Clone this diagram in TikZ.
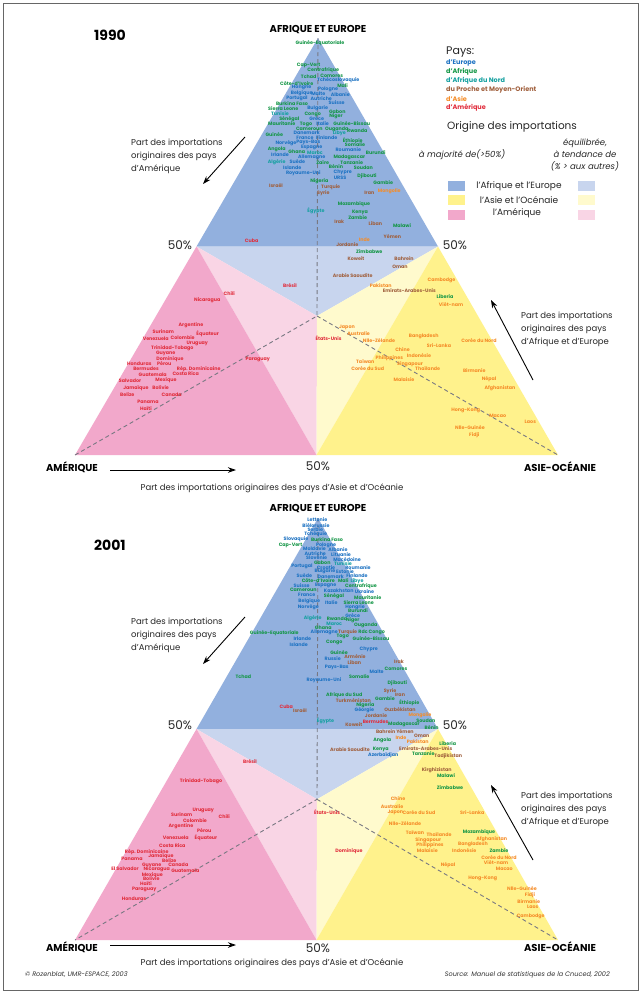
\documentclass[tikz,border=0pt]{standalone}
\usepackage{fontspec}
\setmainfont{Poppins}
\usetikzlibrary{arrows.meta}
\definecolor{dblue}{RGB}{146,176,222}
\definecolor{lblue}{RGB}{200,213,238}
\definecolor{dpink}{RGB}{242,168,203}
\definecolor{lpink}{RGB}{249,213,229}
\definecolor{dyel}{RGB}{255,242,140}
\definecolor{lyel}{RGB}{255,250,205}
\definecolor{eu}{RGB}{30,115,195}
\definecolor{af}{RGB}{20,150,70}
\definecolor{an}{RGB}{20,160,160}
\definecolor{pm}{RGB}{160,95,60}
\definecolor{as}{RGB}{245,140,40}
\definecolor{am}{RGB}{225,45,60}
\definecolor{dash}{RGB}{120,120,130}
\newcounter{lc}
\newcommand\cty[4]{\stepcounter{lc}\node[lab,text=#1] (c\arabic{lc}) at (#2,#3) {#4};}
\newcommand\labf{\fontsize{4.8}{5}\selectfont\bfseries}
\tikzset{
  lab/.style={font=\labf,inner sep=0pt},
  medline/.style={draw=dash,line width=0.9pt,dash pattern=on 4pt off 3pt},
  sidetext/.style={font=\fontsize{8.5}{13}\selectfont,align=left,inner sep=0pt,text=black!85},
  axtext/.style={font=\fontsize{8.5}{10}\selectfont,inner sep=0pt,text=black!85},
  corner/.style={font=\fontsize{10}{12}\selectfont\bfseries,inner sep=0pt},
  pct/.style={font=\fontsize{12}{14}\selectfont,inner sep=0pt,text=black!85},
  yr/.style={font=\fontsize{14}{16}\selectfont\bfseries,inner sep=0pt},
  parr/.style={-{Stealth[length=8pt,width=5.5pt]},line width=0.9pt},
  leg/.style={font=\fontsize{6.5}{7}\selectfont\bfseries,inner sep=0pt,anchor=west},
  sw/.style={minimum width=17.7pt,minimum height=10pt,inner sep=0pt,anchor=north west},
}
\begin{document}
\begin{tikzpicture}[x=1pt,y=-1pt]
\useasboundingbox (0,0) rectangle (643,994);
\fill[white] (0,0) rectangle (643,994);
\draw[black!60,line width=0.8pt] (3,3) rectangle (638,990);

% ===== triangle 1990 =====
\coordinate (A1) at (318,38); \coordinate (M1) at (75,455); \coordinate (S1) at (558,455);
\coordinate (am1) at (196.5,246.5); \coordinate (as1) at (438,246.5); \coordinate (ms1) at (316.5,455);
\coordinate (G1) at (317,316);
\fill[dblue] (A1) -- (am1) -- (as1) -- cycle;
\fill[lblue] (am1) -- (as1) -- (G1) -- cycle;
\fill[lpink] (am1) -- (G1) -- (ms1) -- cycle;
\fill[lyel] (as1) -- (G1) -- (ms1) -- cycle;
\fill[dpink] (M1) -- (am1) -- (ms1) -- cycle;
\fill[dyel] (S1) -- (as1) -- (ms1) -- cycle;
\draw[medline] (A1) -- (G1) -- (M1);
\draw[medline] (G1) -- (S1);

% ===== triangle 2001 =====
\coordinate (A2) at (318,518); \coordinate (M2) at (75,940); \coordinate (S2) at (558,940);
\coordinate (am2) at (196.5,729); \coordinate (as2) at (438,729); \coordinate (ms2) at (316.5,940);
\coordinate (G2) at (317,799.3);
\fill[dblue] (A2) -- (am2) -- (as2) -- cycle;
\fill[lblue] (am2) -- (as2) -- (G2) -- cycle;
\fill[lpink] (am2) -- (G2) -- (ms2) -- cycle;
\fill[lyel] (as2) -- (G2) -- (ms2) -- cycle;
\fill[dpink] (M2) -- (am2) -- (ms2) -- cycle;
\fill[dyel] (S2) -- (as2) -- (ms2) -- cycle;
\draw[medline] (A2) -- (G2) -- (M2);
\draw[medline] (G2) -- (S2);

% ===== titles, corners =====
\node[yr] (y1) at (110,35) {1990};
\node[yr] (y2) at (110,545) {2001};
\node[corner] (t1) at (318,30) {AFRIQUE ET EUROPE};
\node[corner] (t2) at (318,509) {AFRIQUE ET EUROPE};
\node[corner] (ml1) at (72,467) {AMÉRIQUE};
\node[corner] (ml2) at (72,947) {AMÉRIQUE};
\node[corner] (sl1) at (560,467) {ASIE-OCÉANIE};
\node[corner] (sl2) at (560,947) {ASIE-OCÉANIE};
\node[pct] (p1a) at (180,245) {50\%};
\node[pct] (p1b) at (455,245) {50\%};
\node[pct] (p1c) at (318,466) {50\%};
\node[pct] (p2a) at (180,725) {50\%};
\node[pct] (p2b) at (455,725) {50\%};
\node[pct] (p2c) at (318,948) {50\%};

% ===== side texts & arrows =====
\node[sidetext,anchor=north west] (st1) at (131,139) {Part des importations\\originaires des pays\\d'Amérique};
\node[sidetext,anchor=north west] (st2) at (131,618) {Part des importations\\originaires des pays\\d'Amérique};
\coordinate (a1s) at (245,137); \coordinate (a1e) at (203,184);
\coordinate (a2s) at (245,617); \coordinate (a2e) at (203,664);
\draw[parr] (a1s) -- (a1e);
\draw[parr] (a2s) -- (a2e);
\node[sidetext,anchor=north west] (rt1) at (521,312) {Part des importations\\originaires des pays\\d'Afrique et d'Europe};
\node[sidetext,anchor=north west] (rt2) at (521,792) {Part des importations\\originaires des pays\\d'Afrique et d'Europe};
\coordinate (b1s) at (533,380); \coordinate (b1e) at (491,300);
\coordinate (b2s) at (533,860); \coordinate (b2e) at (491,785);
\draw[parr] (b1s) -- (b1e);
\draw[parr] (b2s) -- (b2e);
\node[axtext] (bt1) at (272,488) {Part des importations originaires des pays d'Asie et d'Océanie};
\node[axtext] (bt2) at (272,963) {Part des importations originaires des pays d'Asie et d'Océanie};
\coordinate (c1s) at (110,470); \coordinate (c1e) at (236,470);
\coordinate (c2s) at (110,945); \coordinate (c2e) at (236,945);
\draw[parr] (c1s) -- (c1e);
\draw[parr] (c2s) -- (c2e);

% ===== legend =====
\node[font=\fontsize{11}{12}\selectfont,inner sep=0pt,anchor=west,text=black!85] (pays) at (446,52) {Pays:};
\node[leg,text=eu] (le1) at (446,63) {d'Europe};
\node[leg,text=af] (le2) at (446,72) {d'Afrique};
\node[leg,text=an] (le3) at (446,81) {d'Afrique du Nord};
\node[leg,text=pm] (le4) at (446,90) {du Proche et Moyen-Orient};
\node[leg,text=as] (le5) at (446,99) {d'Asie};
\node[leg,text=am] (le6) at (446,108) {d'Amérique};
\node[font=\fontsize{10.5}{12}\selectfont,inner sep=0pt,anchor=west,text=black!85] (orig) at (447,127) {Origine des importations};
\node[font=\fontsize{8.5}{10}\selectfont\itshape,inner sep=0pt,text=black!85] (maj) at (462,155) {à majorité de(>50\%)};
\node[font=\fontsize{8.5}{12}\selectfont\itshape,inner sep=0pt,align=center,text=black!85] (equ) at (585,155) {équilibrée,\\à tendance de\\(\% > aux autres)};
\node[sw,fill=dblue] (s1) at (447.3,180.7) {};
\node[sw,fill=lblue] (s2) at (577.3,180.7) {};
\node[sw,fill=dyel] (s3) at (447.3,194.3) {};
\node[sw,fill=lyel] (s4) at (577.3,194.3) {};
\node[sw,fill=dpink] (s5) at (447.3,209.3) {};
\node[sw,fill=lpink] (s6) at (577.3,209.3) {};
\node[font=\fontsize{9}{10}\selectfont,inner sep=0pt,text=black!85] (lg1) at (519,186) {l'Afrique et l'Europe};
\node[font=\fontsize{9}{10}\selectfont,inner sep=0pt,text=black!85] (lg2) at (519,200.3) {l'Asie et l'Océnaie};
\node[font=\fontsize{9}{10}\selectfont,inner sep=0pt,text=black!85] (lg3) at (517,213.3) {l'Amérique};

% ===== footer =====
\node[font=\fontsize{6.5}{8}\selectfont\itshape,inner sep=0pt,anchor=west,text=black!80] (f1) at (25,975) {© Rozenblat, UMR-ESPACE, 2003};
\node[font=\fontsize{6.5}{8}\selectfont\itshape,inner sep=0pt,anchor=east,text=black!80] (f2) at (610,975) {Source: Manuel de statistiques de la Cnuced, 2002};

% ===== 1990 labels =====
\cty{af}{320}{43.3}{Guinée-Equatoriale}
\cty{af}{308.7}{65}{Cap-Vert}
\cty{af}{323.3}{70.7}{Centrafrique}
\cty{af}{331.7}{75.7}{Comores}
\cty{af}{308.7}{77}{Tchad}
\cty{eu}{338.3}{80.5}{Tchécoslovaquie}
\cty{af}{296.7}{83.7}{Côte-d'Ivoire}
\cty{af}{342.5}{86}{Mali}
\cty{eu}{301.7}{87.7}{Hongrie}
\cty{eu}{328}{89}{Pologne}
\cty{eu}{301.7}{93.7}{Belgique}
\cty{eu}{318.3}{93.7}{Malte}
\cty{eu}{340.3}{94.7}{Albanie}
\cty{eu}{297}{98.3}{Portugal}
\cty{eu}{321.3}{98.3}{Autriche}
\cty{eu}{336.7}{103}{Suisse}
\cty{af}{292}{104}{Burkina Faso}
\cty{af}{283.3}{108.7}{Sierra Leone}
\cty{eu}{317.7}{108.7}{Bulgarie}
\cty{af}{337.3}{111.7}{Gabon}
\cty{an}{280}{114}{Tunisie}
\cty{af}{312.7}{114}{Congo}
\cty{af}{336}{116.3}{Niger}
\cty{af}{289.3}{119}{Sénégal}
\cty{eu}{316.7}{119}{Grèce}
\cty{af}{281.7}{124}{Mauritanie}
\cty{af}{306}{124}{Togo}
\cty{eu}{322.7}{124}{Italie}
\cty{af}{351.7}{124}{Guinée-Bissau}
\cty{af}{309.3}{129}{Cameroun}
\cty{af}{336.7}{129}{Ouganda}
\cty{af}{357.3}{131}{Rwanda}
\cty{eu}{306.7}{133}{Danemark}
\cty{an}{339.3}{133.7}{Libye}
\cty{af}{274.3}{135}{Guinée}
\cty{eu}{305}{137.7}{France}
\cty{eu}{326.7}{137.3}{Finlande}
\cty{af}{352.7}{140.7}{Éthiopie}
\cty{eu}{286}{142.7}{Norvège}
\cty{eu}{308.3}{142.7}{Pays-Bas}
\cty{af}{355}{145}{Somalie}
\cty{eu}{311.7}{147}{Espagne}
\cty{af}{276.7}{149}{Angola}
\cty{eu}{348.3}{150}{Roumanie}
\cty{af}{296.7}{151.7}{Ghana}
\cty{an}{315}{153}{Maroc}
\cty{af}{375.7}{152.7}{Burundi}
\cty{eu}{280}{154.3}{Irlande}
\cty{eu}{311.7}{157}{Allemagne}
\cty{af}{349.3}{157}{Madagascar}
\cty{an}{276.7}{161.7}{Algérie}
\cty{eu}{297.3}{161.7}{Suède}
\cty{af}{322.7}{162.7}{Zaïre}
\cty{af}{351.7}{163}{Tanzanie}
\cty{eu}{292.3}{167.7}{Islande}
\cty{af}{336}{167}{Bénin}
\cty{af}{363.3}{167.7}{Soudan}
\cty{eu}{342.7}{172}{Chypre}
\cty{eu}{303.3}{173.7}{Royaume-Uni}
\cty{af}{367}{176.7}{Djibouti}
\cty{eu}{340}{178.3}{URSS}
\cty{af}{319.3}{181}{Nigeria}
\cty{af}{383.3}{182.7}{Gambie}
\cty{pm}{276}{185.7}{Israël}
\cty{pm}{330.7}{187.7}{Turquie}
\cty{as}{389.3}{191}{Mongolie}
\cty{pm}{369.3}{193}{Iran}
\cty{pm}{323.3}{193.3}{Syrie}
\cty{af}{354}{204.3}{Mozambique}
\cty{an}{316}{211}{Égypte}
\cty{af}{360}{212.7}{Kenya}
\cty{af}{357.7}{217.7}{Zambie}
\cty{pm}{339.3}{222}{Irak}
\cty{pm}{375.3}{224}{Liban}
\cty{af}{402}{225.7}{Malawi}
\cty{pm}{392.3}{237}{Yémen}
\cty{as}{364.3}{239.7}{Inde}
\cty{am}{251.7}{241}{Cuba}
\cty{pm}{347.3}{244.7}{Jordanie}
\cty{af}{369.3}{251.7}{Zimbabwe}
\cty{pm}{356}{259}{Koweit}
\cty{pm}{404}{259}{Bahrein}
\cty{pm}{400}{267}{Oman}
\cty{pm}{352.7}{276}{Arabie Saoudite}
\cty{am}{290}{285.7}{Brésil}
\cty{as}{441.5}{280}{Cambodge}
\cty{as}{380.7}{286}{Pakistan}
\cty{pm}{409.3}{291}{Emirats-Arabes-Unis}
\cty{af}{445}{297}{Liberia}
\cty{as}{451}{305}{Viêt-nam}
\cty{am}{229.3}{294}{Chili}
\cty{am}{207.3}{300}{Nicaragua}
\cty{as}{347}{327}{Japon}
\cty{as}{358.7}{334}{Australie}
\cty{am}{328.5}{338}{États-Unis}
\cty{as}{379}{341}{Nlle-Zélande}
\cty{as}{423.7}{336.5}{Bangladesh}
\cty{as}{439}{345.7}{Sri-Lanka}
\cty{as}{479}{341}{Corée du Nord}
\cty{as}{402.5}{349.8}{Chine}
\cty{as}{419}{356}{Indonésie}
\cty{as}{365.3}{361.7}{Taïwan}
\cty{as}{389.3}{358.3}{Philippines}
\cty{as}{410}{364}{Singapour}
\cty{as}{427.7}{369}{Thaïlande}
\cty{as}{367.7}{369}{Corée du Sud}
\cty{as}{474.3}{371}{Birmanie}
\cty{as}{489}{379}{Népal}
\cty{as}{404}{380}{Malaisie}
\cty{as}{500}{388}{Afghanistan}
\cty{as}{465.7}{410.7}{Hong-Kong}
\cty{as}{497.7}{416}{Macao}
\cty{as}{530.3}{422}{Laos}
\cty{as}{470}{427.7}{Nlle-Guinée}
\cty{as}{474.3}{435.7}{Fidji}
\cty{am}{191}{325}{Argentine}
\cty{am}{163.3}{332}{Surinam}
\cty{am}{207.7}{333.7}{Équateur}
\cty{am}{155.7}{339}{Venezuela}
\cty{am}{182.7}{337.7}{Colombie}
\cty{am}{197.3}{343}{Uruguay}
\cty{am}{172.3}{348}{Trinidad-Tobago}
\cty{am}{165.7}{353}{Guyane}
\cty{am}{170}{359}{Dominique}
\cty{am}{139.3}{364}{Honduras}
\cty{am}{164.3}{364}{Pérou}
\cty{am}{257.7}{359.3}{Paraguay}
\cty{am}{146}{369}{Bermudes}
\cty{am}{198.7}{369}{Rép. Dominicaine}
\cty{am}{152.7}{375}{Guatemala}
\cty{am}{185.7}{373.7}{Costa Rica}
\cty{am}{130}{380.7}{Salvador}
\cty{am}{166}{380.7}{Mexique}
\cty{am}{136}{388}{Jamaïque}
\cty{am}{160.7}{388}{Bolivie}
\cty{am}{127.3}{394.7}{Belize}
\cty{am}{171.7}{394.7}{Canada}
\cty{am}{148}{402}{Panama}
\cty{am}{146}{408.3}{Haïti}

% ===== 2001 labels =====
\cty{eu}{317.3}{520}{Lettonie}
\cty{eu}{316}{525.3}{Biélorussie}
\cty{eu}{315.3}{529.7}{Serbie}
\cty{eu}{315.7}{534.5}{Tchéquie}
\cty{eu}{296}{539.3}{Slovaquie}
\cty{af}{327}{539.7}{Burkina Faso}
\cty{af}{290.5}{545}{Cap-Vert}
\cty{eu}{326}{545}{Pologne}
\cty{eu}{314.5}{549}{Moldavie}
\cty{eu}{338}{549.7}{Albanie}
\cty{eu}{315.3}{553.5}{Autriche}
\cty{eu}{341}{554.7}{Lituanie}
\cty{eu}{316.7}{558}{Slovénie}
\cty{eu}{347}{559.5}{Macédoine}
\cty{af}{322.3}{562.5}{Gabon}
\cty{an}{343}{564}{Tunisie}
\cty{eu}{302}{566.5}{Portugal}
\cty{eu}{326}{567.3}{Croatie}
\cty{eu}{358}{567.3}{Roumanie}
\cty{eu}{325}{571.7}{Bulgarie}
\cty{eu}{345}{572}{Estonie}
\cty{eu}{304.3}{575.5}{Suède}
\cty{eu}{330.7}{576.3}{Danemark}
\cty{eu}{357}{576}{Finlande}
\cty{af}{318.3}{581}{Côte-d'Ivoire}
\cty{af}{343.3}{581}{Mali}
\cty{an}{357}{581}{Libye}
\cty{eu}{301.7}{585.3}{Suisse}
\cty{eu}{325.7}{585.5}{Espagne}
\cty{af}{361}{586}{Centrafrique}
\cty{af}{303.3}{590}{Cameroun}
\cty{eu}{338.7}{590.7}{Kazakhstan}
\cty{eu}{364.5}{591.7}{Ukraine}
\cty{eu}{306.7}{595.3}{France}
\cty{af}{334}{596}{Sénégal}
\cty{af}{367.7}{597.7}{Mauritanie}
\cty{eu}{309.3}{601.7}{Belgique}
\cty{eu}{331.3}{603}{Italie}
\cty{af}{358.7}{602.7}{Sierra Leone}
\cty{eu}{308.3}{607}{Norvège}
\cty{eu}{355}{607.3}{Hongrie}
\cty{af}{358}{610.7}{Burundi}
\cty{eu}{352.7}{615.8}{Grèce}
\cty{an}{312.7}{617.7}{Algérie}
\cty{af}{337}{619}{Rwanda}
\cty{af}{352.7}{620.7}{Niger}
\cty{an}{334.3}{624.3}{Maroc}
\cty{af}{365.7}{625.7}{Ouganda}
\cty{af}{323.3}{627.3}{Ghana}
\cty{af}{274.3}{633.3}{Guinée-Equatoriale}
\cty{eu}{324.3}{632}{Allemagne}
\cty{pm}{347.7}{632}{Turquie}
\cty{af}{371.7}{632}{Rdc Congo}
\cty{af}{342.7}{636.3}{Togo}
\cty{eu}{302.3}{639}{Irlande}
\cty{af}{371}{639}{Guinée-Bissau}
\cty{af}{334.3}{642}{Congo}
\cty{eu}{298.7}{644.3}{Islande}
\cty{eu}{368.7}{649}{Chypre}
\cty{af}{339}{653}{Guinée}
\cty{pm}{355}{657}{Arménie}
\cty{eu}{332.7}{659}{Russie}
\cty{pm}{399}{662}{Irak}
\cty{pm}{354.3}{663}{Liban}
\cty{eu}{336.7}{667.7}{Pays-Bas}
\cty{af}{396}{669}{Comores}
\cty{eu}{376.7}{671.7}{Malte}
\cty{af}{243.3}{676.7}{Tchad}
\cty{af}{359.3}{676.7}{Somalie}
\cty{eu}{324}{680}{Royaume-Uni}
\cty{af}{397.3}{683.3}{Djibouti}
\cty{pm}{390}{691}{Syrie}
\cty{af}{344.3}{695}{Afrique du Sud}
\cty{pm}{400}{695}{Iran}
\cty{af}{385}{698.3}{Gambie}
\cty{pm}{353.3}{700.7}{Turkménistan}
\cty{af}{409.3}{702.7}{Éthiopie}
\cty{am}{286.3}{707}{Cuba}
\cty{af}{365.3}{705}{Nigeria}
\cty{pm}{300}{711}{Israël}
\cty{eu}{364.3}{710}{Géorgie}
\cty{pm}{400}{709.3}{Ouzbékistan}
\cty{as}{420}{715}{Mongolie}
\cty{pm}{376}{716}{Jordanie}
\cty{an}{325.5}{721}{Égypte}
\cty{am}{375.5}{721.3}{Bermudes}
\cty{af}{425.8}{720.7}{Soudan}
\cty{pm}{353.8}{725}{Koweit}
\cty{af}{404}{724.7}{Madagascar}
\cty{af}{431.7}{727.3}{Bénin}
\cty{pm}{385.7}{731.7}{Bahrein}
\cty{pm}{405}{731.7}{Yémen}
\cty{pm}{421.7}{735.7}{Oman}
\cty{as}{401}{737.7}{Inde}
\cty{af}{382.3}{740.7}{Angola}
\cty{as}{417.7}{741.7}{Pakistan}
\cty{af}{447.7}{744}{Liberia}
\cty{pm}{350}{749.3}{Arabie Saoudite}
\cty{af}{380.7}{749.3}{Kenya}
\cty{pm}{425.7}{748.7}{Emirats-Arabes-Unis}
\cty{eu}{383.3}{755.7}{Azerbaïdjan}
\cty{af}{423.3}{754}{Tanzanie}
\cty{pm}{448.3}{756}{Tadjikistan}
\cty{pm}{436.7}{770.7}{Kirghizistan}
\cty{af}{446}{775.7}{Malawi}
\cty{af}{450}{787.5}{Zimbabwe}
\cty{am}{250}{762}{Brésil}
\cty{as}{398}{799}{Chine}
\cty{as}{392}{806.7}{Australie}
\cty{as}{395.3}{812.3}{Japon}
\cty{as}{419}{812.7}{Corée du Sud}
\cty{as}{472.3}{812.7}{Sri-Lanka}
\cty{am}{327}{812}{États-Unis}
\cty{as}{405}{823.7}{Nlle-Zélande}
\cty{as}{415}{832.7}{Taïwan}
\cty{as}{439}{834.3}{Thaïlande}
\cty{af}{479}{832.7}{Mozambique}
\cty{as}{428.3}{840}{Singapour}
\cty{as}{491.7}{839}{Afghanistan}
\cty{as}{430}{845.7}{Philippines}
\cty{as}{473}{844}{Bangladesh}
\cty{as}{427.3}{850.7}{Malaisie}
\cty{as}{464.3}{850.7}{Indonésie}
\cty{af}{499}{850.7}{Zambie}
\cty{as}{499}{857.7}{Corée du Nord}
\cty{as}{496}{862.7}{Viêt-nam}
\cty{as}{448}{865}{Népal}
\cty{as}{504.3}{869}{Macao}
\cty{as}{482.7}{878.3}{Hong-Kong}
\cty{as}{522}{888.7}{Nlle-Guinée}
\cty{as}{530}{895.3}{Fidji}
\cty{as}{528.7}{902}{Birmanie}
\cty{as}{532.7}{907.3}{Laos}
\cty{as}{530.7}{916}{Cambodge}
\cty{am}{349}{851}{Dominique}
\cty{am}{201}{781}{Trinidad-Tobago}
\cty{am}{203.3}{810}{Uruguay}
\cty{am}{181.7}{815}{Surinam}
\cty{am}{224.3}{816.7}{Chili}
\cty{am}{195}{821}{Colombie}
\cty{am}{181}{826.3}{Argentine}
\cty{am}{204.3}{831}{Pérou}
\cty{am}{175.7}{838}{Venezuela}
\cty{am}{206}{838}{Équateur}
\cty{am}{172.3}{846}{Costa Rica}
\cty{am}{146.7}{851.7}{Rép. Dominicaine}
\cty{am}{161}{856}{Jamaïque}
\cty{am}{132}{859}{Panama}
\cty{am}{169.3}{860.7}{Belize}
\cty{am}{151.7}{865}{Guyane}
\cty{am}{178.3}{865}{Canada}
\cty{am}{125}{869}{El Salvador}
\cty{am}{156.7}{869}{Nicaragua}
\cty{am}{185.3}{870.7}{Guatemala}
\cty{am}{152.3}{875}{Mexique}
\cty{am}{151.3}{878.7}{Bolivie}
\cty{am}{146}{883.5}{Haïti}
\cty{am}{144.3}{889}{Paraguay}
\cty{am}{134}{898.7}{Honduras}
\end{tikzpicture}
\end{document}
